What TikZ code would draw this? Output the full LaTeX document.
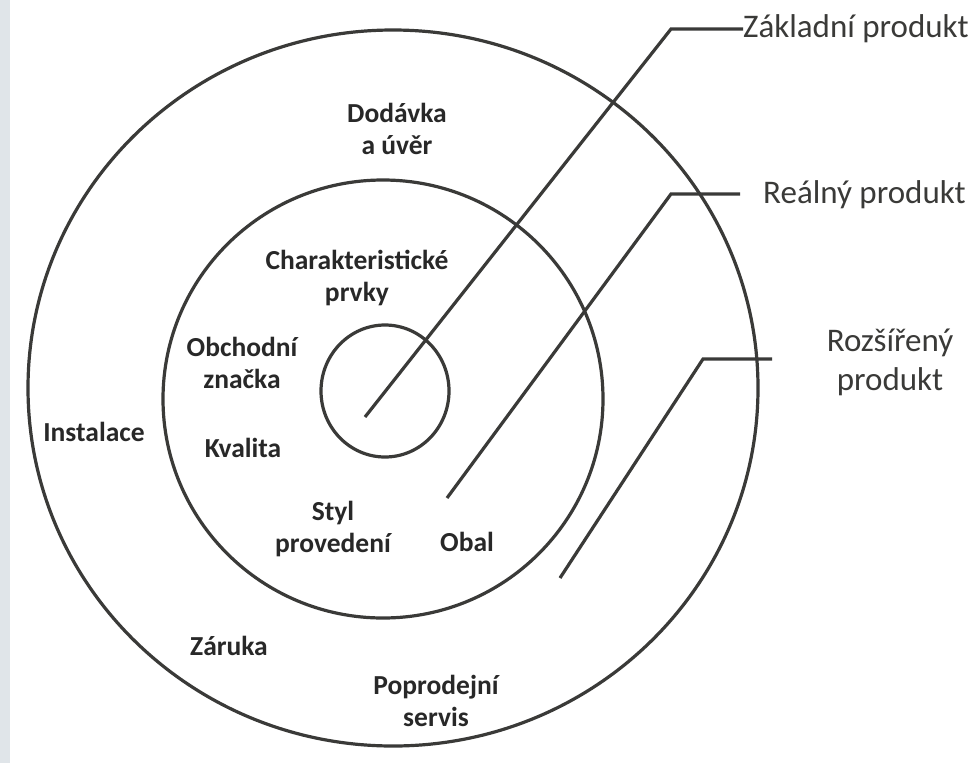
\documentclass[tikz,border=0pt]{standalone}
\usepackage{fontspec}
\setmainfont{Carlito}
\usepackage{tikz}
\usetikzlibrary{positioning}
\definecolor{InkGray}{RGB}{58,58,56}
\definecolor{TextGray}{RGB}{40,40,40}
\definecolor{ScanEdge}{RGB}{224,229,233}

\begin{document}
\begin{tikzpicture}[
x=1pt,y=-1pt,
ring/.style={draw=InkGray,line width=3.2pt},
lead/.style={draw=InkGray,line width=3.2pt,line join=miter},
lbl/.style={align=center,font=\fontsize{27.5}{32}\selectfont\bfseries,text=TextGray,inner sep=0pt},
tag/.style={align=center,font=\fontsize{33}{39}\selectfont,text=InkGray,inner sep=0pt}
]
\useasboundingbox (0,0) rectangle (976,763);
\fill[white] (0,0) rectangle (976,763);
\fill[ScanEdge] (0,0) rectangle (10,763);
% rings
\draw[ring] (393,388) ellipse [x radius=365pt,y radius=358pt];
\draw[ring] (383,399) ellipse [x radius=220pt,y radius=219pt];
\draw[ring] (385,391) ellipse [x radius=64pt,y radius=66pt];
% ring labels
\node[lbl] (dodavka) at (397,129) {Dodávka\\a úvěr};
\node[lbl] (charakt) at (357,278) {Charakteristické\\prvky};
\node[lbl] (znacka) at (242,363) {Obchodní\\značka};
\node[lbl] (instalace) at (94,432) {Instalace};
\node[lbl] (kvalita) at (243,448) {Kvalita};
\node[lbl] (styl) at (333,529) {Styl\\provedení};
\node[lbl] (obal) at (467,542) {Obal};
\node[lbl] (zaruka) at (229,646) {Záruka};
\node[lbl] (servis) at (436,701) {Poprodejní\\servis};
% leaders
\node[tag,anchor=west] (zakladni) at (743,29) {Základní produkt};
\node[tag,anchor=west] (realny) at (763,195) {Reálný produkt};
\node[tag] (rozsireny) at (890,362) {Rozšířený\\produkt};
\coordinate (z0) at (365,417); \coordinate (zk) at (671,29);
\coordinate (r0) at (447,498); \coordinate (rk) at (671,194); \coordinate (r1) at (740,194);
\coordinate (e0) at (560,578); \coordinate (ek) at (703,359); \coordinate (e1) at (772,359);
\draw[lead] (z0) -- (zk) -- (zakladni.west);
\draw[lead] (r0) -- (rk) -- (r1);
\draw[lead] (e0) -- (ek) -- (e1);
\end{tikzpicture}
\end{document}
